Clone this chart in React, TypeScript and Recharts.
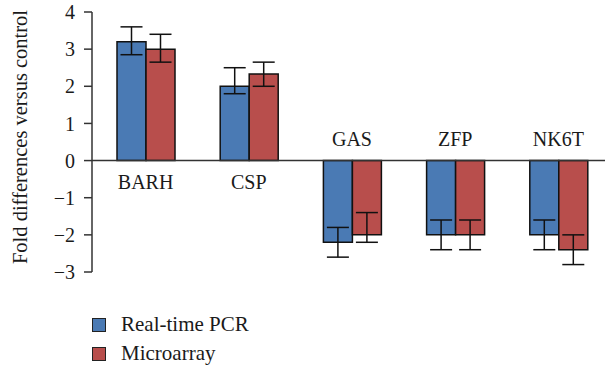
import React from 'react';
import { BarChart, Bar, XAxis, YAxis, ErrorBar, ReferenceLine, ReferenceDot, Legend } from 'recharts';

const categories = ['BARH', 'CSP', 'GAS', 'ZFP', 'NK6T'];
const realTime = [3.2, 2.0, -2.2, -2.0, -2.0];
const realTimeLow = [2.85, 1.8, -2.6, -2.4, -2.4];
const realTimeHigh = [3.6, 2.5, -1.8, -1.6, -1.6];
const microarray = [3.0, 2.33, -2.0, -2.0, -2.4];
const microarrayLow = [2.65, 2.0, -2.2, -2.4, -2.8];
const microarrayHigh = [3.4, 2.65, -1.4, -1.6, -2.0];
const yTicks = [-3, -2, -1, 0, 1, 2, 3, 4];

const BLUE = '#4a7ab4';
const RED = '#b84e4c';
const FONT = '"Liberation Serif", "Times New Roman", serif';
const TEXT = '#1a1a1a';

const data = categories.map((c, i) => ({
  name: c,
  rt: realTime[i],
  rtErr: [realTime[i] - realTimeLow[i], realTimeHigh[i] - realTime[i]],
  ma: microarray[i],
  maErr: [microarray[i] - microarrayLow[i], microarrayHigh[i] - microarray[i]],
}));

const fmt = (v: number) => (v < 0 ? '\u2212' + Math.abs(v) : String(v));

const YLabel = (props: any) => {
  const vb = props.viewBox || { x: 0, y: 12, width: 92, height: 260 };
  const cx = 20;
  const cy = vb.y + vb.height / 2 - 5;
  return (
    <text
      x={cx}
      y={cy}
      transform={`rotate(-90, ${cx}, ${cy})`}
      textAnchor="middle"
      dominantBaseline="central"
      fontFamily={FONT}
      fontSize={20.5}
      fill={TEXT}
    >
      Fold differences versus control
    </text>
  );
};

const LegendContent = (props: any) => {
  const items = [
    { name: 'Real-time PCR', color: BLUE },
    { name: 'Microarray', color: RED },
  ];
  return (
    <div style={{ fontFamily: FONT, fontSize: 21, color: TEXT }}>
      {items.map((it) => (
        <div key={it.name} style={{ display: 'flex', alignItems: 'center', height: 29 }}>
          <div
            style={{
              width: 12,
              height: 12,
              background: it.color,
              border: '1.5px solid #222',
              marginRight: 15,
            }}
          />
          <span style={{ lineHeight: '21px' }}>{it.name}</span>
        </div>
      ))}
    </div>
  );
};

export default function App() {
  return (
    <div style={{ position: 'absolute', left: 0, top: 0, width: 605, height: 370, overflow: 'hidden', background: '#fff' }}>
      <BarChart
        width={610}
        height={370}
        data={data}
        margin={{ top: 12, right: 0, bottom: 98, left: 0 }}
        barGap={0}
        barSize={29}
      >
        <XAxis dataKey="name" hide padding={{ left: 2, right: 0 }} />
        <YAxis
          width={92}
          domain={[-3, 4]}
          ticks={yTicks}
          interval={0}
          tickFormatter={fmt}
          tickSize={8}
          tickMargin={9}
          axisLine={{ stroke: '#333', strokeWidth: 1.5 }}
          tickLine={{ stroke: '#333', strokeWidth: 1.5 }}
          tick={{ fontFamily: FONT, fontSize: 20, fill: TEXT }}
          label={YLabel}
        />
        <Legend
          layout="vertical"
          align="center"
          verticalAlign="middle"
          content={LegendContent}
          wrapperStyle={{ left: 92, top: 310, width: 250, height: 60 }}
        />
        <Bar dataKey="rt" name="Real-time PCR" fill={BLUE} stroke="#111" strokeWidth={1.5} isAnimationActive={false}>
          <ErrorBar dataKey="rtErr" width={11} stroke="#111" strokeWidth={1.5} direction="y" />
        </Bar>
        <Bar dataKey="ma" name="Microarray" fill={RED} stroke="#111" strokeWidth={1.5} isAnimationActive={false}>
          <ErrorBar dataKey="maErr" width={11} stroke="#111" strokeWidth={1.5} direction="y" />
        </Bar>
        <ReferenceLine y={0} stroke="#333" strokeWidth={1.5} />
        {categories.map((c, i) => (
          <ReferenceDot
            key={c}
            x={c}
            y={0}
            r={0}
            fill="none"
            stroke="none"
            label={{
              value: c,
              position: realTime[i] < 0 ? 'top' : 'bottom',
              offset: realTime[i] < 0 ? 15 : 14,
              fontFamily: FONT,
              fontSize: 20,
              fill: TEXT,
            }}
          />
        ))}
      </BarChart>
    </div>
  );
}
